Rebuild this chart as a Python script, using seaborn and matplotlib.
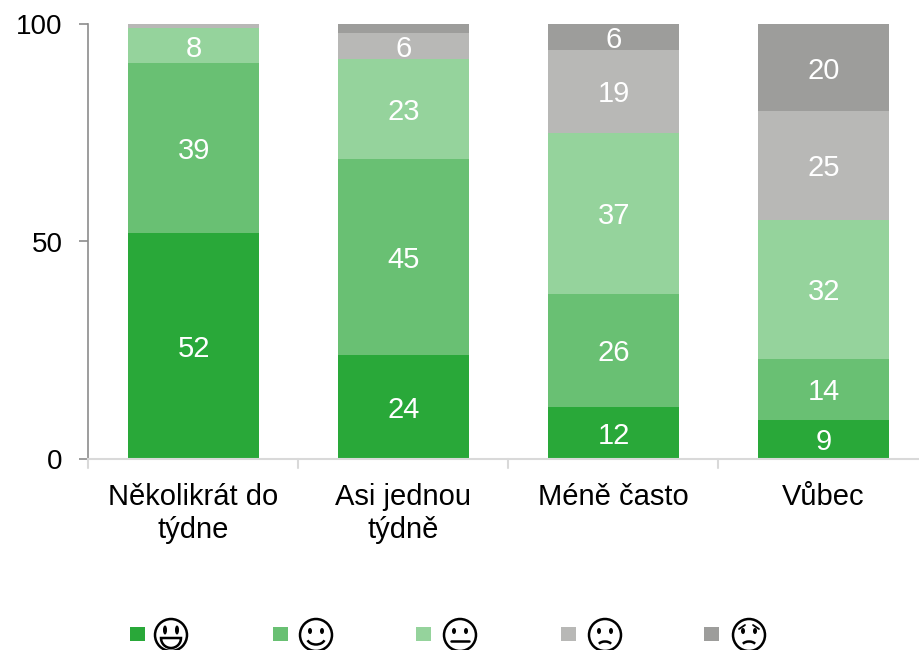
import numpy as np
import matplotlib
matplotlib.use("Agg")
import matplotlib.pyplot as plt
from matplotlib.patches import Ellipse, Rectangle, Arc, Wedge
import seaborn as sns

categories = ["Několikrát do\ntýdne", "Asi jednou\ntýdně", "Méně často", "Vůbec"]
very_happy = [52, 24, 12, 9]
happy = [39, 45, 26, 14]
neutral = [8, 23, 37, 32]
sad = [1, 6, 19, 25]
very_sad = [0, 2, 6, 20]
series = [very_happy, happy, neutral, sad, very_sad]
colors = ["#29A839", "#69C073", "#95D39C", "#B8B8B6", "#9D9D9B"]
ticks = [0, 50, 100]
W, H = 920, 650

sns.set_theme(style="white")
plt.rcParams["font.family"] = ["Liberation Sans", "DejaVu Sans"]
fig = plt.figure(figsize=(W / 100, H / 100), dpi=100)
ax = fig.add_axes([88.5 / W, 1 - 459 / H, 840 / W, 435 / H])

bottom = np.zeros(len(categories))
for vals, col in zip(series, colors):
    sns.barplot(x=categories, y=vals, bottom=bottom, color=col, width=131 / 210,
                saturation=1, ax=ax, linewidth=0, native_scale=False, errorbar=None)
    for i, v in enumerate(vals):
        if v >= 6:
            ax.annotate(str(v), (i, bottom[i] + v / 2), xytext=(0.4, -2.2),
                        textcoords="offset points", ha="center", va="center",
                        color="white", fontsize=21)
    bottom = bottom + np.array(vals)

ax.set_xlim(-0.5, 3.5)
ax.set_ylim(0, 100)
ax.set_yticks(ticks)
ax.set_xticks(range(4))
ax.set_xticklabels(categories, linespacing=1.26)
ax.tick_params(axis="y", labelsize=20, length=6.5, width=1.2, color="#8c8c8c", pad=12,
               left=True, labelcolor="black")
ax.tick_params(axis="x", labelsize=21, length=0, pad=17, labelcolor="black")
for s in ["top", "right"]:
    ax.spines[s].set_visible(False)
ax.spines["left"].set_color("#8c8c8c")
ax.spines["left"].set_linewidth(1.2)
ax.spines["bottom"].set_color("#d9d9d9")
ax.spines["bottom"].set_linewidth(1.5)
for k in range(5):
    ax.plot([k - 0.5] * 2, [0, -9 / 4.35], color="#d9d9d9", lw=1.5, clip_on=False)

# legend in pixel coordinates
ov = fig.add_axes([0, 0, 1, 1], facecolor="none")
ov.set_xlim(0, W)
ov.set_ylim(H, 0)
ov.axis("off")
ox = [130, 273, 416, 561, 704]
fx = [171, 316, 460, 605, 749]
cy = 635
for n, (x, c, f) in enumerate(zip(ox, colors, fx)):
    ov.add_patch(Rectangle((x, 627), 15, 14, color=c, lw=0))
    ov.add_patch(Ellipse((f, cy), 32, 32, fill=False, ec="black", lw=1.8))
    ey = cy - 4
    if n == 0:
        for d in (-6, 6):
            ov.add_patch(Ellipse((f + d, ey - 1), 4, 9, color="black", lw=0))
        ov.add_patch(Wedge((f, cy + 3), 10, 0, 180, fc="white", ec="black", lw=1.8))
    else:
        for d in (-6, 6):
            ov.add_patch(Ellipse((f + d, ey), 4, 6, color="black", lw=0))
    if n == 1:
        ov.add_patch(Arc((f, cy + 3), 18, 13, theta1=15, theta2=165, color="black", lw=1.8))
    if n == 2:
        ov.plot([f - 9, f + 9], [cy + 6, cy + 6], color="black", lw=1.8)
    if n == 3:
        ov.add_patch(Arc((f, cy + 11), 14, 9, theta1=200, theta2=340, color="black", lw=1.8))
    if n == 4:
        ov.add_patch(Arc((f, cy + 11), 14, 9, theta1=200, theta2=340, color="black", lw=1.8))
        ov.plot([f - 10, f - 4], [cy - 6, cy - 10], color="black", lw=1.3)
        ov.plot([f + 10, f + 4], [cy - 6, cy - 10], color="black", lw=1.3)

fig.savefig("out.png", dpi=100)
